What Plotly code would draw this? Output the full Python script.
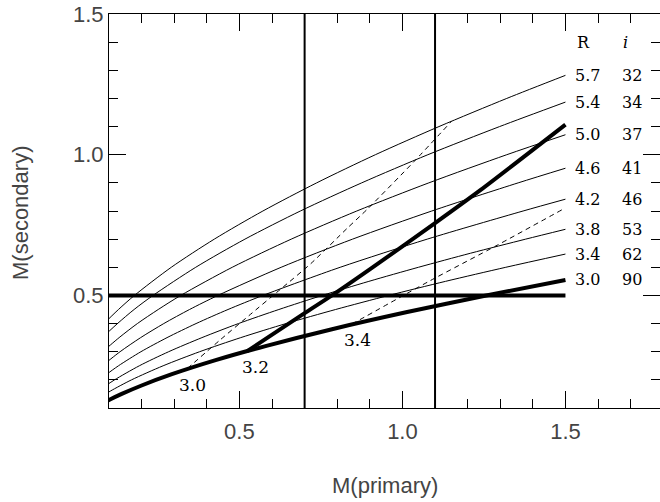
import plotly.graph_objects as go

# Constant-inclination curves: M(secondary) against M(primary)
R_vals = ["5.7", "5.4", "5.0", "4.6", "4.2", "3.8", "3.4", "3.0"]
inc_vals = ["32", "34", "37", "41", "46", "53", "62", "90"]

x_i32 = [0.015, 0.047, 0.085, 0.129, 0.178, 0.291, 0.423, 0.572, 0.737, 0.917, 1.112, 1.320, 1.500]
y_i32 = [0.30, 0.35, 0.40, 0.45, 0.50, 0.60, 0.70, 0.80, 0.90, 1.00, 1.10, 1.20, 1.282]

x_i34 = [0.028, 0.042, 0.080, 0.126, 0.177, 0.235, 0.366, 0.517, 0.687, 0.875, 1.078, 1.298, 1.500]
y_i34 = [0.28, 0.30, 0.35, 0.40, 0.45, 0.50, 0.60, 0.70, 0.80, 0.90, 1.00, 1.10, 1.187]

x_i37 = [0.040, 0.064, 0.081, 0.131, 0.187, 0.251, 0.320, 0.478, 0.659, 0.860, 1.081, 1.320, 1.500]
y_i37 = [0.25, 0.28, 0.30, 0.35, 0.40, 0.45, 0.50, 0.60, 0.70, 0.80, 0.90, 1.00, 1.071]

x_i41 = [0.036, 0.053, 0.080, 0.134, 0.197, 0.268, 0.347, 0.434, 0.628, 0.847, 1.090, 1.355, 1.500]
y_i41 = [0.20, 0.22, 0.25, 0.30, 0.35, 0.40, 0.45, 0.50, 0.60, 0.70, 0.80, 0.90, 0.952]

x_i46 = [0.052, 0.071, 0.093, 0.129, 0.198, 0.278, 0.367, 0.465, 0.572, 0.809, 1.076, 1.370, 1.500]
y_i46 = [0.18, 0.20, 0.22, 0.25, 0.30, 0.35, 0.40, 0.45, 0.50, 0.60, 0.70, 0.80, 0.842]

x_i53 = [0.056, 0.091, 0.117, 0.193, 0.283, 0.385, 0.497, 0.621, 0.754, 0.897, 1.049, 1.209, 1.378, 1.500]
y_i53 = [0.15, 0.18, 0.20, 0.25, 0.30, 0.35, 0.40, 0.45, 0.50, 0.55, 0.60, 0.65, 0.70, 0.735]

x_i62 = [0.076, 0.104, 0.169, 0.266, 0.378, 0.504, 0.643, 0.795, 0.958, 1.132, 1.317, 1.500]
y_i62 = [0.14, 0.16, 0.20, 0.25, 0.30, 0.35, 0.40, 0.45, 0.50, 0.55, 0.60, 0.647]

x_i90 = [0.087, 0.103, 0.139, 0.200, 0.293, 0.427, 0.580, 0.784, 1.011, 1.257, 1.500]
y_i90 = [0.12, 0.13, 0.15, 0.18, 0.22, 0.27, 0.32, 0.38, 0.44, 0.50, 0.555]

# Constant-R tracks (3.2 solid, 3.0 and 3.4 dashed)
x_t30 = [0.340, 0.442, 0.529, 0.626, 0.719, 0.830, 0.892, 1.035, 1.150]
y_t30 = [0.240, 0.343, 0.428, 0.522, 0.613, 0.738, 0.806, 0.975, 1.118]

x_t32 = [0.524, 0.700, 0.784, 0.903, 1.100, 1.239, 1.500]
y_t32 = [0.302, 0.437, 0.500, 0.595, 0.757, 0.874, 1.107]

x_t34 = [0.845, 1.086, 1.290, 1.492]
y_t34 = [0.398, 0.553, 0.678, 0.806]

track_labels = ["3.0", "3.2", "3.4"]
track_label_x = [0.355, 0.549, 0.861]
track_label_y = [0.180, 0.245, 0.340]

# Limits
m2_limit = 0.5
m1_limits = [0.7, 1.1]
x_span = [0.1, 1.5]

curves = [(x_i32, y_i32), (x_i34, y_i34), (x_i37, y_i37), (x_i41, y_i41),
          (x_i46, y_i46), (x_i53, y_i53), (x_i62, y_i62), (x_i90, y_i90)]

fig = go.Figure()

for k, (xs, ys) in enumerate(curves):
    thick = inc_vals[k] == "90"
    fig.add_trace(go.Scatter(x=xs, y=ys, mode="lines",
                             line=dict(color="black", width=4 if thick else 1,
                                       shape="spline", smoothing=0.8),
                             hoverinfo="skip"))

for xs, ys in [(x_t30, y_t30), (x_t34, y_t34)]:
    fig.add_trace(go.Scatter(x=xs, y=ys, mode="lines",
                             line=dict(color="black", width=1, dash="5px,4px",
                                       shape="spline", smoothing=0.6),
                             hoverinfo="skip"))

fig.add_trace(go.Scatter(x=x_t32, y=y_t32, mode="lines",
                         line=dict(color="black", width=4, shape="spline", smoothing=0.6),
                         hoverinfo="skip"))

fig.add_trace(go.Scatter(x=x_span, y=[m2_limit, m2_limit], mode="lines",
                         line=dict(color="black", width=4), hoverinfo="skip"))

for xv in m1_limits:
    fig.add_shape(type="line", xref="x", yref="paper", x0=xv, x1=xv, y0=0, y1=1,
                  line=dict(color="black", width=2))

serif = dict(family="DejaVu Serif", size=16, color="black")

# Column headers and row labels at the curve ends
fig.add_annotation(x=1.555, y=1.40, text="R", showarrow=False, font=serif,
                   xanchor="center", yanchor="middle")
fig.add_annotation(x=1.684, y=1.40, text="<i>i</i>", showarrow=False, font=serif,
                   xanchor="center", yanchor="middle")
for k, (xs, ys) in enumerate(curves):
    fig.add_annotation(x=1.522, y=ys[-1], text=R_vals[k], showarrow=False, font=serif,
                       xanchor="left", yanchor="middle")
    fig.add_annotation(x=1.667, y=ys[-1], text=inc_vals[k], showarrow=False, font=serif,
                       xanchor="left", yanchor="middle")

for t, tx, ty in zip(track_labels, track_label_x, track_label_y):
    fig.add_annotation(x=tx, y=ty, text=t, showarrow=False,
                       font=dict(family="DejaVu Serif", size=17, color="black"),
                       xanchor="center", yanchor="middle")

sans = dict(family="Liberation Sans", size=22, color="#444")

fig.add_annotation(xref="paper", yref="paper", x=0.5, y=0, yshift=-77,
                   text="M(primary)", showarrow=False, font=sans,
                   xanchor="center", yanchor="middle")
fig.add_annotation(xref="paper", yref="paper", x=0, y=0.5, xshift=-89, yshift=-2,
                   text="M(secondary)", showarrow=False, font=sans, textangle=-90,
                   xanchor="center", yanchor="middle")

axis_common = dict(showgrid=False, zeroline=False, showline=True, linecolor="black",
                   linewidth=1, mirror="ticks", ticks="inside", ticklen=17,
                   tickwidth=1, tickcolor="black", tick0=0, dtick=0.5,
                   tickformat=".1f", tickfont=sans,
                   minor=dict(ticks="inside", ticklen=9, tickwidth=1,
                              tickcolor="black", dtick=0.1, tick0=0, showgrid=False))

fig.update_xaxes(range=[0.1, 1.79], ticklabelstandoff=4, **axis_common)
fig.update_yaxes(range=[0.1, 1.5], **axis_common)

fig.update_layout(width=660, height=502, showlegend=False,
                  margin=dict(l=109, r=0, t=14, b=94),
                  plot_bgcolor="white", paper_bgcolor="white")

fig.write_html("out.html")
